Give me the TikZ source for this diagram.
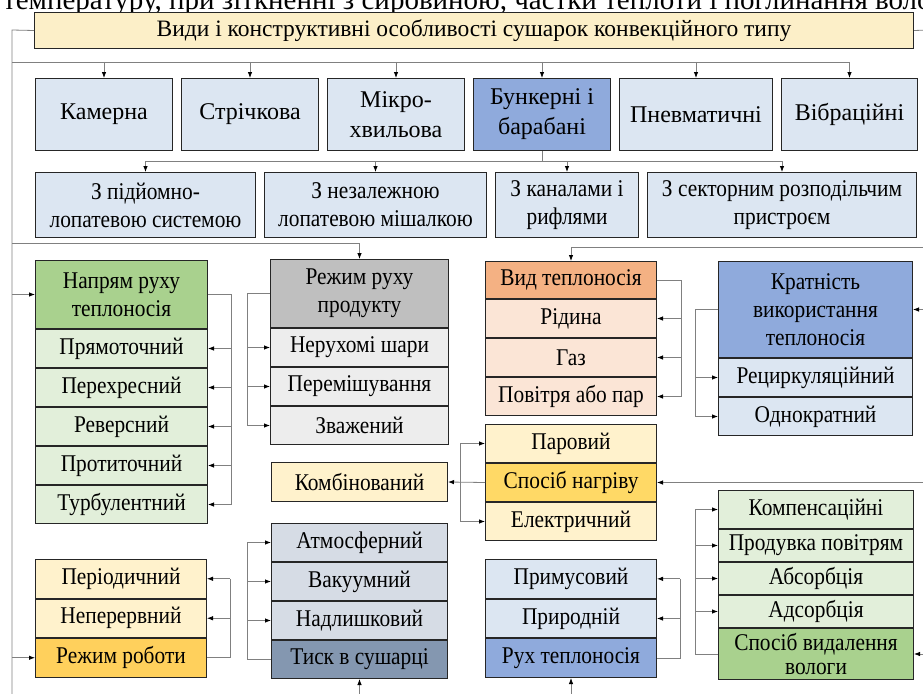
\documentclass[tikz,border=0pt]{standalone}
\usepackage{fontspec}
\setmainfont{Liberation Serif}
\newfontfamily\condfont[FakeStretch=0.89]{Liberation Serif}
\usetikzlibrary{positioning,arrows.meta}

\definecolor{titleC}{HTML}{FCEFC8}
\definecolor{blueL}{HTML}{DCE6F2}
\definecolor{blueD}{HTML}{8FAADC}
\definecolor{greenD}{HTML}{A9D18E}
\definecolor{greenL}{HTML}{E2EFDA}
\definecolor{greyD}{HTML}{BFBFBF}
\definecolor{greyL}{HTML}{EDEDED}
\definecolor{orangeD}{HTML}{F4B183}
\definecolor{orangeL}{HTML}{FBE5D6}
\definecolor{yellowD}{HTML}{FFD966}
\definecolor{yellowL}{HTML}{FFF2CC}
\definecolor{slateD}{HTML}{8497B0}
\definecolor{slateL}{HTML}{D6DCE5}

\tikzset{
  box/.style={draw=black!85, line width=1pt, inner sep=1pt, align=center,
    font=\condfont\fontsize{24}{28}\selectfont},
  kind/.style={box, fill=blueL, minimum width=137pt, minimum height=72pt,
    font=\fontsize{24}{30}\selectfont},
  sub/.style={box, fill=blueL, minimum height=65pt},
  item/.style={box, minimum width=#1, minimum height=38pt},
  line/.style={draw=black!50, line width=0.8pt},
  arr/.style={line, -{Latex[length=6pt,width=4.5pt,black]}}
}

\begin{document}
\begin{tikzpicture}[x=1pt,y=-1pt]
\useasboundingbox (0,0) rectangle (923,693);
\clip (0,0) rectangle (923,693);

% cut line of the page text above
\node[anchor=base west, inner sep=0pt, font=\fontsize{29}{32}\selectfont] (pagetext) at (3,10)
  {температуру, при зіткненні з сировиною, частки теплоти і поглинання вологи};

% title
\node[box, fill=titleC, anchor=north west, minimum width=879pt, minimum height=36pt,
  font=\fontsize{23.5}{28}\selectfont] (title) at (34,12)
  {Види і конструктивні особливості сушарок конвекційного типу};

% kinds of driers
\node[kind, anchor=north west] (k1) at (35,78) {Камерна};
\node[kind, right=8pt of k1] (k2) {Стрічкова};
\node[kind, right=8pt of k2] (k3) {Мікро-\\хвильова};
\node[kind, right=8pt of k3, fill=blueD] (k4) {Бункерні і\\барабані};
\node[kind, right=8pt of k4, minimum width=153pt] (k5) {Пневматичні};
\node[kind, right=8pt of k5, minimum width=136pt] (k6) {Вібраційні};

% bunker and drum driers
\node[sub, anchor=north west, minimum width=220pt] (s1) at (35,172) {З підйомно-\\лопатевою системою};
\node[sub, right=8pt of s1, minimum width=222pt] (s2) {З незалежною\\лопатевою мішалкою};
\node[sub, right=8pt of s2, minimum width=143pt] (s3) {З каналами і\\рифлями};
\node[sub, right=8pt of s3, minimum width=269pt] (s4) {З секторним розподільчим\\пристроєм};

% direction of heat carrier
\node[box, fill=greenD, anchor=north west, minimum width=172pt, minimum height=68pt] (dir) at (35,260) {Напрям руху\\теплоносія};
\node[item=172pt, fill=greenL, below=0pt of dir] (a1) {Прямоточний};
\node[item=172pt, fill=greenL, below=0pt of a1] (a2) {Перехресний};
\node[item=172pt, fill=greenL, below=0pt of a2] (a3) {Реверсний};
\node[item=172pt, fill=greenL, below=0pt of a3] (a4) {Протиточний};
\node[item=172pt, fill=greenL, below=0pt of a4] (a5) {Турбулентний};

% product motion
\node[box, fill=greyD, anchor=north west, minimum width=178pt, minimum height=68pt] (prod) at (270,259) {Режим руху\\продукту};
\node[item=178pt, fill=greyL, below=0pt of prod] (b1) {Нерухомі шари};
\node[item=178pt, fill=greyL, below=0pt of b1] (b2) {Перемішування};
\node[item=178pt, fill=greyL, below=0pt of b2] (b3) {Зважений};

% kind of heat carrier
\node[box, fill=orangeD, anchor=north west, minimum width=171pt, minimum height=37pt] (vid) at (485,261) {Вид теплоносія};
\node[item=171pt, fill=orangeL, below=0pt of vid] (c1) {Рідина};
\node[item=171pt, fill=orangeL, below=0pt of c1] (c2) {Газ};
\node[item=171pt, fill=orangeL, below=0pt of c2] (c3) {Повітря або пар};

% multiplicity of use
\node[box, fill=blueD, anchor=north west, minimum width=194pt, minimum height=96pt] (mult) at (718,261) {Кратність\\використання\\теплоносія};
\node[item=194pt, fill=blueL, below=0pt of mult] (d1) {Рециркуляційний};
\node[item=194pt, fill=blueL, below=0pt of d1] (d2) {Однократний};

% heating
\node[item=171pt, fill=yellowL, anchor=north west] (e1) at (485,424) {Паровий};
\node[item=171pt, fill=yellowD, below=0pt of e1] (heat) {Спосіб нагріву};
\node[item=171pt, fill=yellowL, below=0pt of heat] (e3) {Електричний};
\node[item=176pt, fill=yellowL, anchor=north west, minimum height=39pt] (comb) at (271,462) {Комбінований};

% operating mode
\node[item=171pt, fill=yellowL, anchor=north west, minimum height=38.5pt] (f1) at (35,559) {Періодичний};
\node[item=171pt, fill=yellowL, below=0pt of f1, minimum height=38.5pt] (f2) {Неперервний};
\node[item=171pt, fill=yellowD!90!orange, below=0pt of f2, minimum height=38.5pt] (work) {Режим роботи};

% pressure
\node[item=176pt, fill=slateL, anchor=north west] (g1) at (271,523) {Атмосферний};
\node[item=176pt, fill=slateL, below=0pt of g1] (g2) {Вакуумний};
\node[item=176pt, fill=slateL, below=0pt of g2] (g3) {Надлишковий};
\node[item=176pt, fill=slateD, below=0pt of g3] (press) {Тиск в сушарці};

% motion of heat carrier
\node[item=171pt, fill=blueL, anchor=north west, minimum height=38.67pt] (h1) at (485,559) {Примусовий};
\node[item=171pt, fill=blueL, below=0pt of h1, minimum height=38.67pt] (h2) {Природній};
\node[item=171pt, fill=blueD, below=0pt of h2, minimum height=38.67pt] (flow) {Рух теплоносія};

% moisture removal
\node[item=195pt, fill=greenL, anchor=north west] (i1) at (718,490) {Компенсаційні};
\node[item=195pt, fill=greenL, below=0pt of i1, minimum height=32pt] (i2) {Продувка повітрям};
\node[item=195pt, fill=greenL, below=0pt of i2, minimum height=32pt] (i3) {Абсорбція};
\node[item=195pt, fill=greenL, below=0pt of i3, minimum height=32pt] (i4) {Адсорбція};
\node[item=195pt, fill=greenD, below=0pt of i4, minimum height=51pt, font=\condfont\fontsize{24}{24}\selectfont] (moist) {Спосіб видалення\\вологи};

% outer buses
\coordinate (lb) at (12,30);
\coordinate (rb) at (930,30);
\coordinate (bb) at (0,700);
\draw[line] (title.west) -- (lb) -- (lb |- bb);
\draw[line] (title.east) -- (rb);

% title -> kinds
\coordinate (jt) at (12,62);
\draw[line] (jt) -- (jt -| k6.north);
\foreach \n in {k1,k2,k3,k4,k5,k6}
  \draw[arr] (jt -| \n.north) -- (\n.north);

% bunker -> sub kinds
\draw[line] (k4.south) -- ++(0,10) coordinate (jb);
\draw[line] (jb -| s1.north) -- (jb -| s4.north);
\foreach \n in {s1,s2,s3,s4}
  \draw[arr] (jb -| \n.north) -- (\n.north);

% left bus branches
\draw[arr] (12,243) -| (prod.north);
\draw[arr] (lb |- dir.west) -- (dir.west);
\draw[arr] (lb |- work.west) -- (work.west);

% right bus branches
\draw[arr] (930,247) -| (vid.north);
\draw[arr] (rb |- mult.east) -- (mult.east);
\draw[arr] (rb |- heat.east) -- (heat.east);
\draw[arr] (rb |- moist.east) -- (moist.east);

% bottom branches
\draw[arr] (press.south |- bb) -- (press.south);
\draw[arr] (flow.south |- bb) -- (flow.south);

% groups
\draw[line] (dir.east) -- ++(23,0) coordinate (ja) -- (ja |- a5.east);
\foreach \n in {a1,a2,a3,a4,a5}
  \draw[arr] (ja |- \n.east) -- (\n.east);

\draw[line] (prod.west) -- ++(-23,0) coordinate (jp) -- (jp |- b3.west);
\foreach \n in {b1,b2,b3}
  \draw[arr] (jp |- \n.west) -- (\n.west);

\draw[line] (vid.east) -- ++(24,0) coordinate (jv) -- (jv |- c3.east);
\foreach \n in {c1,c2,c3}
  \draw[arr] (jv |- \n.east) -- (\n.east);

\draw[line] (mult.west) -- ++(-23,0) coordinate (jm) -- (jm |- d2.west);
\foreach \n in {d1,d2}
  \draw[arr] (jm |- \n.west) -- (\n.west);

\draw[arr] (heat.west) -- (comb.east);
\coordinate (jh) at ([xshift=-25pt]heat.west);
\draw[line] (jh |- e1.west) -- (jh |- e3.west);
\foreach \n in {e1,e3}
  \draw[arr] (jh |- \n.west) -- (\n.west);

\draw[line] (work.east) -- ++(23,0) coordinate (jw) -- (jw |- f1.east);
\foreach \n in {f1,f2}
  \draw[arr] (jw |- \n.east) -- (\n.east);

\draw[line] (press.west) -- ++(-24,0) coordinate (jg) -- (jg |- g1.west);
\foreach \n in {g1,g2,g3}
  \draw[arr] (jg |- \n.west) -- (\n.west);

\draw[line] (flow.east) -- ++(23,0) coordinate (jf) -- (jf |- h1.east);
\foreach \n in {h1,h2}
  \draw[arr] (jf |- \n.east) -- (\n.east);

\draw[line] (moist.west) -- ++(-23,0) coordinate (jd) -- (jd |- i1.west);
\foreach \n in {i1,i2,i3,i4}
  \draw[arr] (jd |- \n.west) -- (\n.west);
\end{tikzpicture}
\end{document}
